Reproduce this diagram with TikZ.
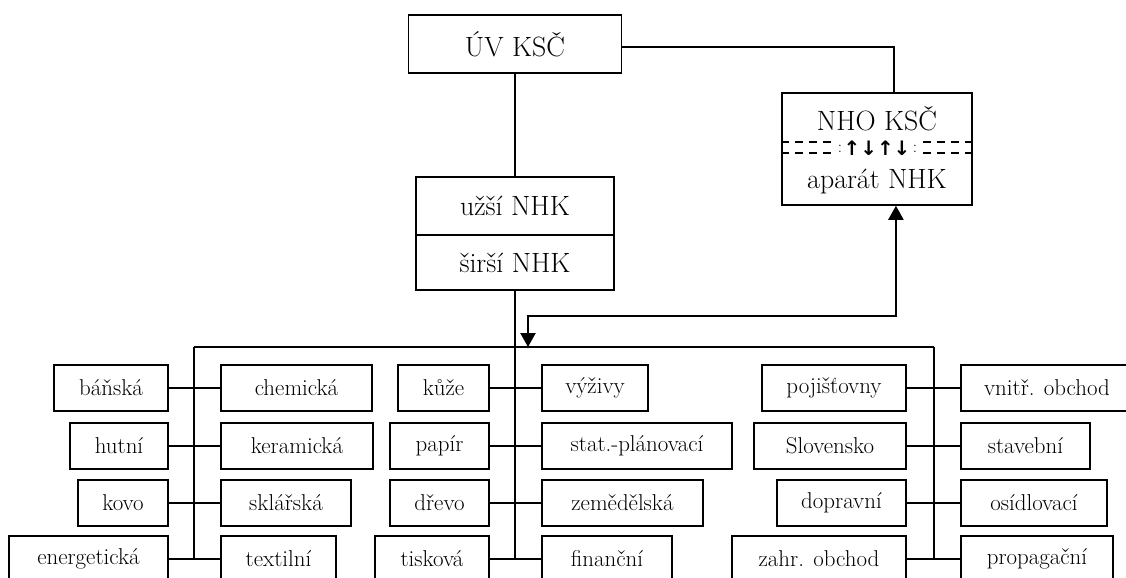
\documentclass[tikz,border=0pt]{standalone}
\usepackage{fontspec}
\newfontfamily\djv{DejaVu Sans}
\usetikzlibrary{arrows.meta}
\tikzset{
  sbox/.style={draw, line width=1.5bp, minimum height=46bp, inner sep=0pt, font=\fontsize{23}{27}\selectfont},
  bbox/.style={draw, line width=1.5bp, inner sep=0pt, font=\fontsize{28}{32}\selectfont},
  conn/.style={line width=1.3bp},
  arr/.style={line width=2.2bp, {Triangle[width=15bp,length=14bp]}-{Triangle[width=15bp,length=14bp]}},
  dsh/.style={line width=1.3bp, dash pattern=on 8bp off 6bp}
}
\begin{document}
\begin{tikzpicture}[x=1bp,y=-1bp]
\clip (0,0) rectangle (1126,578);
\fill[white] (0,0) rectangle (1126,578);
% top boxes
\node[bbox, minimum width=213bp, minimum height=58bp] (uv) at (515,44) {ÚV KSČ};
\node[bbox, minimum width=198bp, minimum height=58bp] (uzsi) at (515,206) {užší NHK};
\node[bbox, minimum width=198bp, minimum height=55bp] (sirsi) at (515,262.5) {širší NHK};
\node[bbox, minimum width=190bp, minimum height=112bp] (nho) at (877,149) {};
\node[font=\fontsize{28}{32}\selectfont, inner sep=0pt] (nhot) at (877,119) {NHO KSČ};
\node[font=\fontsize{28}{32}\selectfont, inner sep=0pt] (nhob) at (877,182) {aparát NHK};
\node[font=\djv\bfseries\fontsize{20}{22}\selectfont, inner sep=0pt] (sep) at (877,148) {↑↓↑↓};
\node[font=\fontsize{17}{18}\selectfont, inner sep=0pt, anchor=base] (c1) at (840,153) {:};
\node[font=\fontsize{17}{18}\selectfont, inner sep=0pt, anchor=base] (c2) at (915,153) {:};
\draw[dsh] (nho.west |- 0,142) -- (836,142);
\draw[dsh] (nho.west |- 0,153) -- (836,153);
\draw[dsh] (nho.east |- 0,142) -- (919,142);
\draw[dsh] (nho.east |- 0,153) -- (919,153);
% top connectors
\draw[conn] (uv.south) -- (uzsi.north);
\draw[conn] ([yshift=-3]uv.east) -| ([xshift=17]nho.north);
% bus
\coordinate (busL) at (194,347);
\coordinate (busM) at (515,347);
\coordinate (busR) at (934,347);
\coordinate (busA) at (528,347);
\coordinate (botL) at (194,559);
\coordinate (botM) at (515,559);
\coordinate (botR) at (934,559);
\draw[conn] (busL) -- (busR);
\draw[conn] (sirsi.south) -- (botM);
\draw[conn] (busL) -- (botL);
\draw[conn] (busR) -- (botR);
\draw[arr] ([xshift=19]nho.south) |- (528,316) -- (busA);
% left group
\node[sbox, minimum width=114bp] (banska) at (111,388) {báňská};
\node[sbox, minimum width=98bp] (hutni) at (119,446) {hutní};
\node[sbox, minimum width=90bp] (kovo) at (123,503) {kovo};
\node[sbox, minimum width=159bp] (energ) at (88.5,559) {energetická};
\node[sbox, minimum width=151bp] (chem) at (296.5,388) {chemická};
\node[sbox, minimum width=152bp] (keram) at (297,446) {keramická};
\node[sbox, minimum width=130bp] (sklar) at (286,503) {sklářská};
\node[sbox, minimum width=115bp] (text) at (278.5,559) {textilní};
% middle group
\node[sbox, minimum width=91bp] (kuze) at (443.5,388) {kůže};
\node[sbox, minimum width=99bp] (papir) at (439.5,446) {papír};
\node[sbox, minimum width=99bp] (drevo) at (439.5,503) {dřevo};
\node[sbox, minimum width=114bp] (tisk) at (432,559) {tisková};
\node[sbox, minimum width=106bp] (vyziv) at (595,388) {výživy};
\node[sbox, minimum width=190bp] (stat) at (637,446) {stat.-plánovací};
\node[sbox, minimum width=161bp] (zemed) at (622.5,503) {zemědělská};
\node[sbox, minimum width=130bp] (financ) at (607,559) {finanční};
% right group
\node[sbox, minimum width=144bp] (poj) at (834,388) {pojišťovny};
\node[sbox, minimum width=152bp] (slov) at (830,446) {Slovensko};
\node[sbox, minimum width=129bp] (doprav) at (841.5,503) {dopravní};
\node[sbox, minimum width=174bp] (zahr) at (819,559) {zahr. obchod};
\node[sbox, minimum width=172bp] (vnitr) at (1047,388) {vnitř. obchod};
\node[sbox, minimum width=129bp] (stav) at (1025.5,446) {stavební};
\node[sbox, minimum width=146bp] (osidl) at (1034,503) {osídlovací};
\node[sbox, minimum width=152bp] (propag) at (1037,559) {propagační};
% row connectors
\draw[conn] (banska.east) -- (chem.west);
\draw[conn] (hutni.east) -- (keram.west);
\draw[conn] (kovo.east) -- (sklar.west);
\draw[conn] (energ.east) -- (text.west);
\draw[conn] (kuze.east) -- (vyziv.west);
\draw[conn] (papir.east) -- (stat.west);
\draw[conn] (drevo.east) -- (zemed.west);
\draw[conn] (tisk.east) -- (financ.west);
\draw[conn] (poj.east) -- (vnitr.west);
\draw[conn] (slov.east) -- (stav.west);
\draw[conn] (doprav.east) -- (osidl.west);
\draw[conn] (zahr.east) -- (propag.west);
\end{tikzpicture}
\end{document}
